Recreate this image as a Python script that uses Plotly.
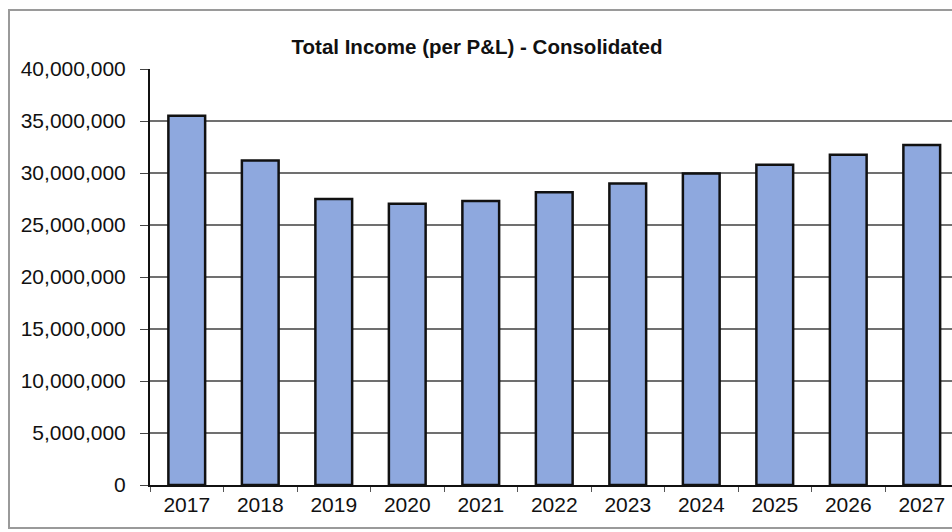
import plotly.graph_objects as go

years = ["2017", "2018", "2019", "2020", "2021", "2022", "2023", "2024", "2025", "2026", "2027"]
income = [35500000, 31200000, 27500000, 27050000, 27300000, 28150000,
          29000000, 29950000, 30800000, 31750000, 32700000]
y_ticks = [0, 5000000, 10000000, 15000000, 20000000, 25000000, 30000000, 35000000, 40000000]
y_tick_labels = ["0", "5,000,000", "10,000,000", "15,000,000", "20,000,000",
                 "25,000,000", "30,000,000", "35,000,000", "40,000,000"]

fig = go.Figure(go.Bar(
    x=years, y=income,
    marker=dict(color="#8EA8DE", line=dict(color="#111111", width=2.5)),
    width=0.5,
))

L, T, B = 150, 69, 485
W, H = 952, 532
pw = W - L
ph = B - T
cat_w = 73.5

fig.update_layout(
    width=W, height=H,
    margin=dict(l=L, r=0, t=T, b=H - B, pad=0),
    paper_bgcolor="white", plot_bgcolor="white",
    font=dict(family="Liberation Sans, Arial, sans-serif", size=21, color="#111111"),
    title=dict(text="<b>Total Income (per P&L) - Consolidated</b>",
               font=dict(size=20.5, color="#111111"),
               x=(477 - L) / pw, xref="paper", xanchor="center",
               y=1 - 47 / H, yref="container", yanchor="middle"),
    showlegend=False,
    bargap=0.5,
)
fig.update_xaxes(
    type="category", range=[-0.5, -0.5 + pw / cat_w],
    showline=True, linecolor="#111111", linewidth=2,
    ticks="outside", tickson="boundaries", ticklen=5, tickcolor="#555555",
    showgrid=False, tickfont=dict(size=21),
)
fig.update_yaxes(
    range=[0, 40000000], tickvals=y_ticks, ticktext=y_tick_labels,
    showline=True, linecolor="#111111", linewidth=2,
    ticks="outside", ticklen=8, tickcolor="#444444",
    ticklabelstandoff=10,
    showgrid=True, gridcolor="#707070", gridwidth=1.5,
    zeroline=False, tickfont=dict(size=21),
)
# outer chart border
fig.add_shape(type="rect", xref="paper", yref="paper",
              x0=(9 - L) / pw, x1=1.02, y0=(B - 528) / ph, y1=(B - 10) / ph,
              line=dict(color="#9a9a9a", width=2), fillcolor="rgba(0,0,0,0)", layer="below")

fig.write_html("out.html", config={"displayModeBar": False},
               post_script="document.body.style.margin='0';")
